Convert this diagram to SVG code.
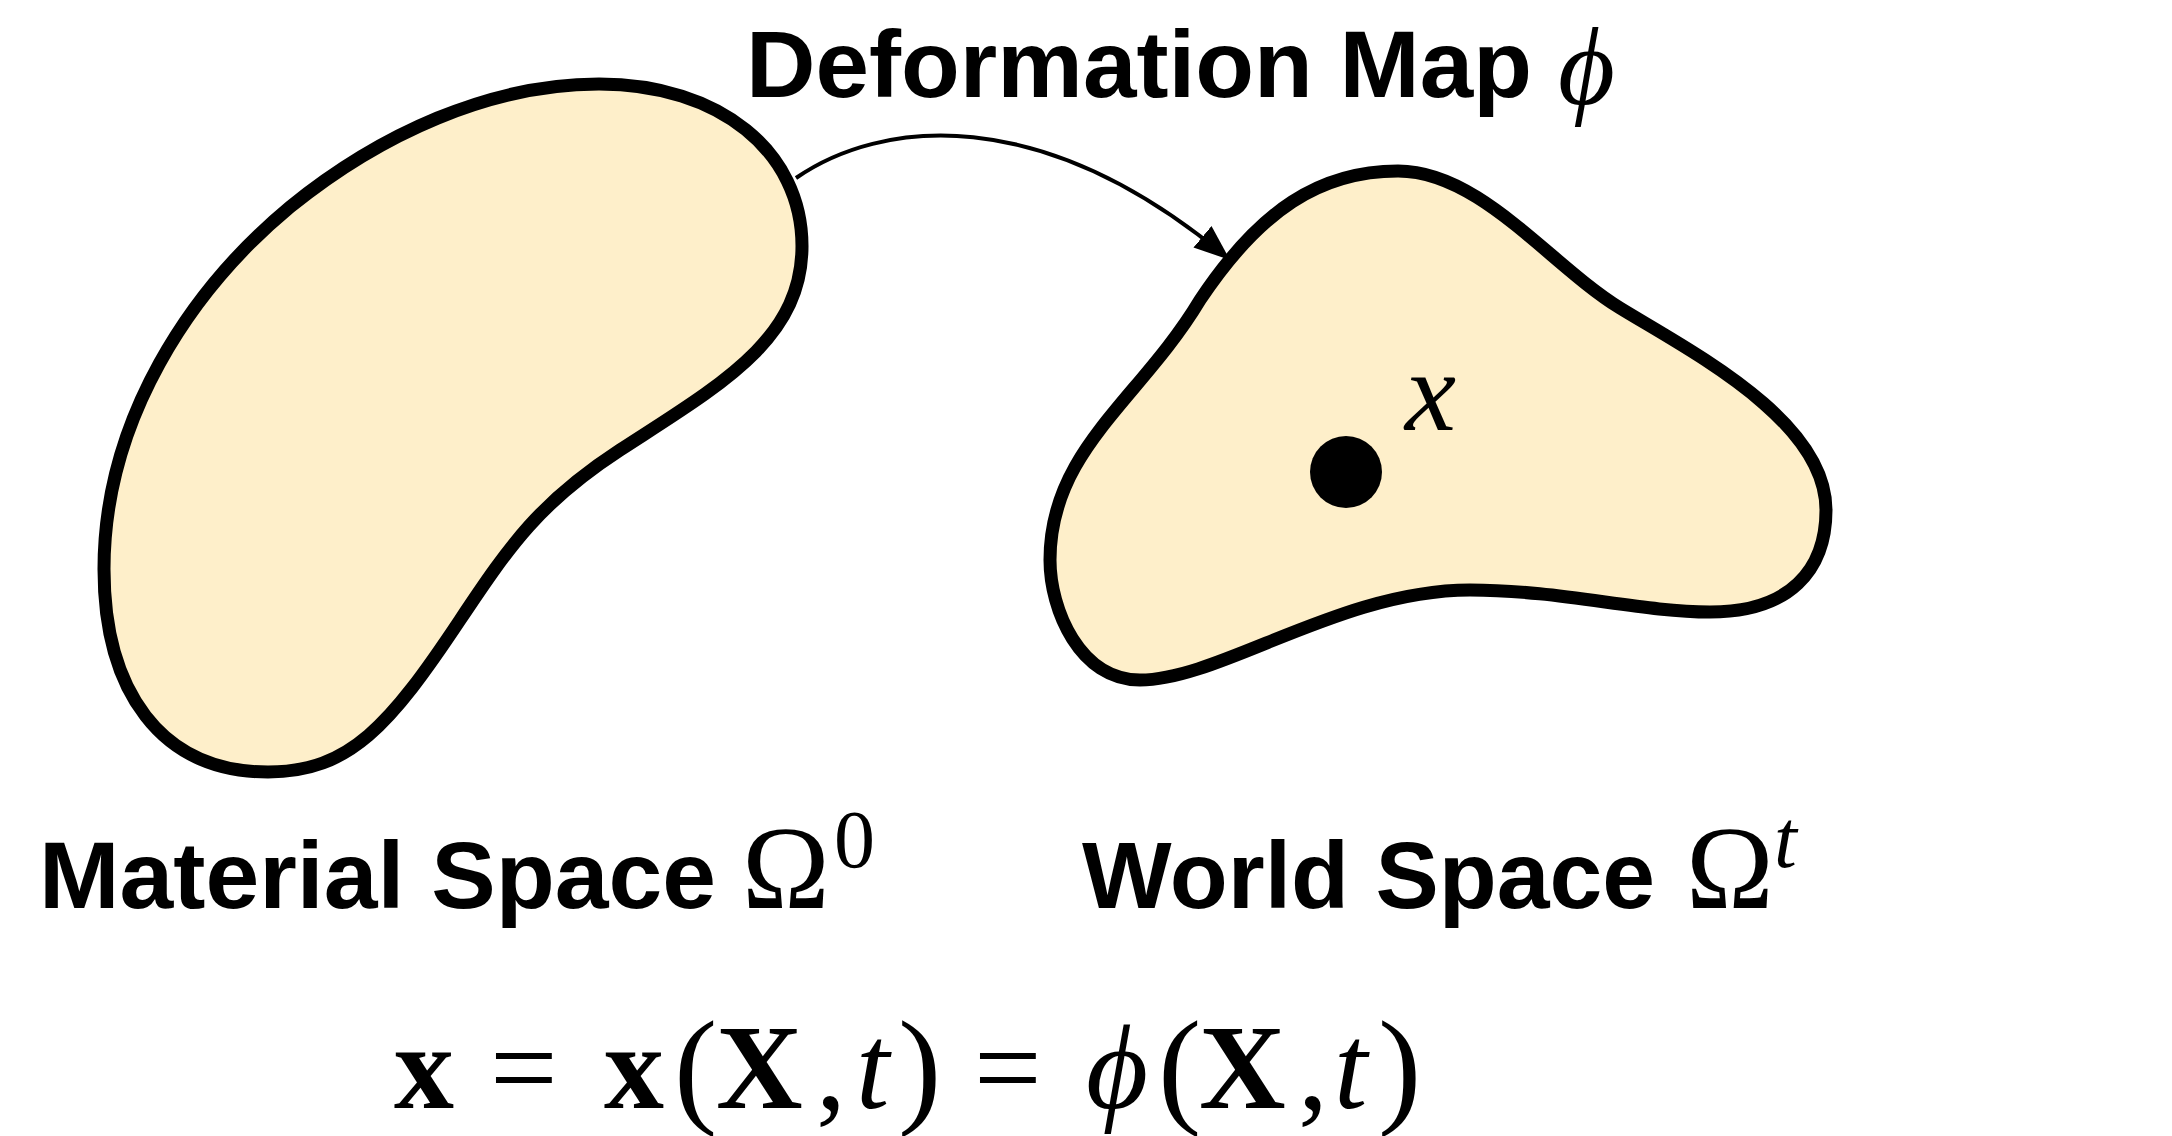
<svg xmlns="http://www.w3.org/2000/svg" width="2172" height="1136" viewBox="0 0 2172 1136">
<style>
.blob{fill:#FEEFCA;stroke:#000;stroke-width:13;stroke-linejoin:round}
.sans{font-family:"Liberation Sans",Arial,sans-serif;font-weight:bold;font-size:94px;fill:#000}
.serif{font-family:"Liberation Serif","DejaVu Serif",serif;fill:#000}
.it{font-style:italic}
.bd{font-weight:bold}
.pr{font-size:130px}
</style>
<defs>
<marker id="ah" markerUnits="userSpaceOnUse" markerWidth="40" markerHeight="30" refX="36" refY="14" orient="auto">
<path d="M0,0 L36,14 L0,28 Z" fill="#000"/>
</marker>
</defs>
<rect width="2172" height="1136" fill="#fff"/>
<g id="material-space">
<path class="blob" d="M 599 84 C 720 84, 802 152, 802 246 C 802 340, 720 385, 620 450 C 540 502, 510 545, 460 620 C 390 725, 350 772, 268 772 C 160 772, 104 690, 104 569 C 104 420, 190 290, 290 207 C 380 134, 490 84, 599 84 Z"/>
<text class="sans" x="39" y="908" textLength="677" lengthAdjust="spacingAndGlyphs">Material Space</text>
<text class="serif" x="742" y="908" font-size="118">Ω</text>
<text class="serif" x="834" y="867" font-size="82">0</text>
</g>
<g id="world-space">
<path class="blob" d="M 1398 171 C 1480 171, 1550 265, 1620 308 C 1690 351, 1826 420, 1826 510 C 1826 570, 1790 612, 1710 612 C 1640 612, 1560 590, 1470 590 C 1340 590, 1220 680, 1140 680 C 1080 680, 1050 610, 1050 560 C 1050 450, 1140 400, 1200 300 C 1260 210, 1320 171, 1398 171 Z"/>
<circle cx="1346" cy="472" r="36" fill="#000"/>
<text class="serif it" x="1405" y="430" font-size="115">x</text>
<text class="sans" x="1082" y="908" textLength="573" lengthAdjust="spacingAndGlyphs">World Space</text>
<text class="serif" x="1686" y="908" font-size="118">Ω</text>
<text class="serif it" x="1774" y="867" font-size="82">t</text>
</g>
<g id="connectors">
<path d="M 796 178 C 880 120, 1040 100, 1230 260" fill="none" stroke="#000" stroke-width="4" marker-end="url(#ah)"/>
</g>
<g id="title">
<text class="sans" x="746" y="97" textLength="786" lengthAdjust="spacingAndGlyphs">Deformation Map</text>
<text class="serif it" x="1558" y="104" font-size="110">ϕ</text>
</g>
<g id="equation">
<text class="serif" font-size="120" y="1108"><tspan class="bd" x="394">x</tspan><tspan x="490">=</tspan><tspan class="bd" x="604">x</tspan><tspan class="pr" x="674" y="1110">(</tspan><tspan class="bd" x="716" y="1108">X</tspan><tspan x="816">,</tspan><tspan class="it" x="856">t</tspan><tspan class="pr" x="898" y="1110">)</tspan><tspan x="974" y="1108">=</tspan><tspan class="it" x="1086">ϕ</tspan><tspan class="pr" x="1158" y="1110">(</tspan><tspan class="bd" x="1199" y="1108">X</tspan><tspan x="1298">,</tspan><tspan class="it" x="1334">t</tspan><tspan class="pr" x="1378" y="1110">)</tspan></text>
</g>
</svg>
